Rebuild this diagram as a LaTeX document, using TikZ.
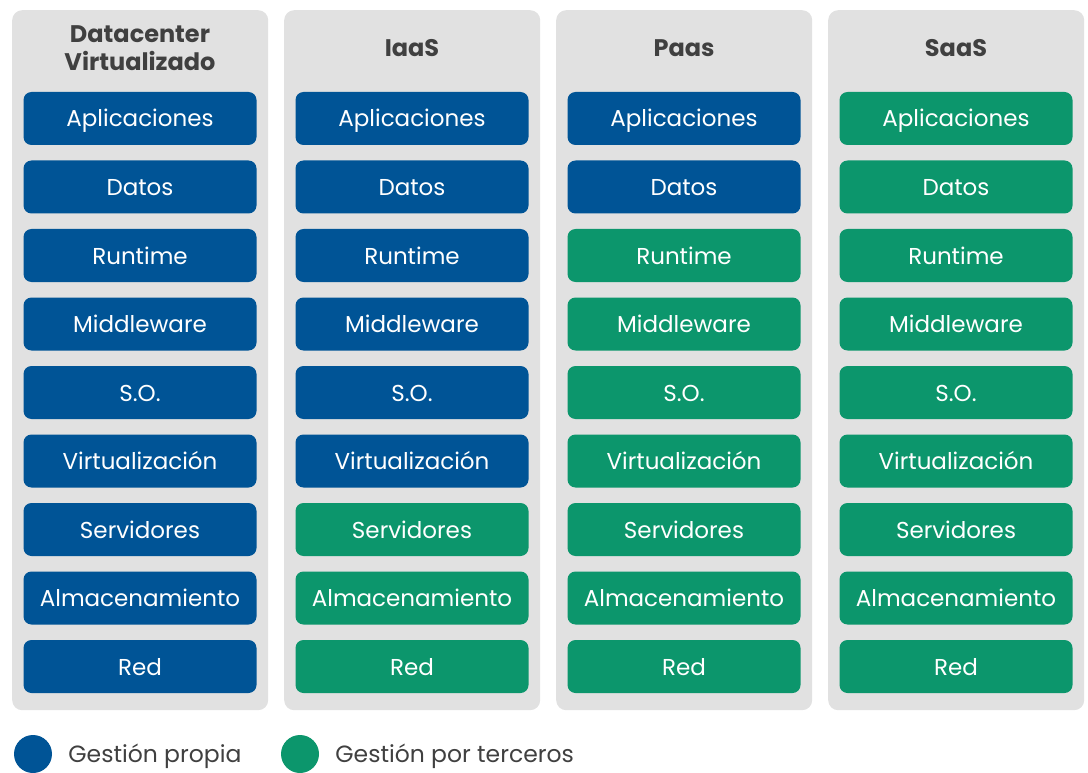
\documentclass[tikz,border=0pt]{standalone}
\usepackage{fontspec}
\setmainfont{Poppins}
\usetikzlibrary{positioning}
\definecolor{ownblue}{RGB}{0,84,150}
\definecolor{thirdgreen}{RGB}{12,150,108}
\definecolor{panelgray}{RGB}{225,225,225}
\definecolor{labelgray}{RGB}{64,64,64}

\begin{document}
\begin{tikzpicture}[x=1pt, y=-1pt,
    panel/.style={fill=panelgray, rounded corners=10pt, minimum width=256pt,
      minimum height=700pt, inner sep=0pt, anchor=north west},
    heading/.style={text=labelgray, align=center, inner sep=0pt,
      font=\bfseries\fontsize{24}{28}\selectfont},
    layer/.style={rounded corners=8pt, minimum width=233pt, minimum height=53pt,
      inner sep=0pt, text height=17pt, text depth=0pt, text=white,
      font=\fontsize{23}{26}\selectfont},
    legdot/.style={circle, minimum size=38pt, inner sep=0pt},
    legtext/.style={text=labelgray, inner sep=0pt, font=\fontsize{23.5}{26}\selectfont}]
  \useasboundingbox (0,0) rectangle (1088,773);
  % columns: left edge / heading / how many layers are own
  \foreach \col/\title/\nown [count=\c] in
      {12/{Datacenter\\Virtualizado}/9, 284/IaaS/6, 556/Paas/2, 828/SaaS/0} {
    \node[panel] (panel\c) at (\col,10) {};
    \node[heading] (head\c) at (\col+128,48) {\title};
    \foreach \lab [count=\r] in {Aplicaciones, Datos, Runtime, Middleware, S.O.,
        Virtualización, Servidores, Almacenamiento, Red} {
      \ifnum\r>\nown \def\fc{thirdgreen}\else \def\fc{ownblue}\fi
      \node[layer, fill=\fc] (layer\c-\r) at (\col+128,{118.5+68.5*(\r-1)}) {\lab};
    }
  }
  % legend
  \node[legdot, fill=ownblue] (dotown) at (33,754) {};
  \node[legtext, right=16pt of dotown, yshift=-2pt] (txtown) {Gestión propia};
  \node[legdot, fill=thirdgreen] (dotthird) at (300,754) {};
  \node[legtext, right=16pt of dotthird, yshift=-2pt] (txtthird) {Gestión por terceros};
\end{tikzpicture}
\end{document}
